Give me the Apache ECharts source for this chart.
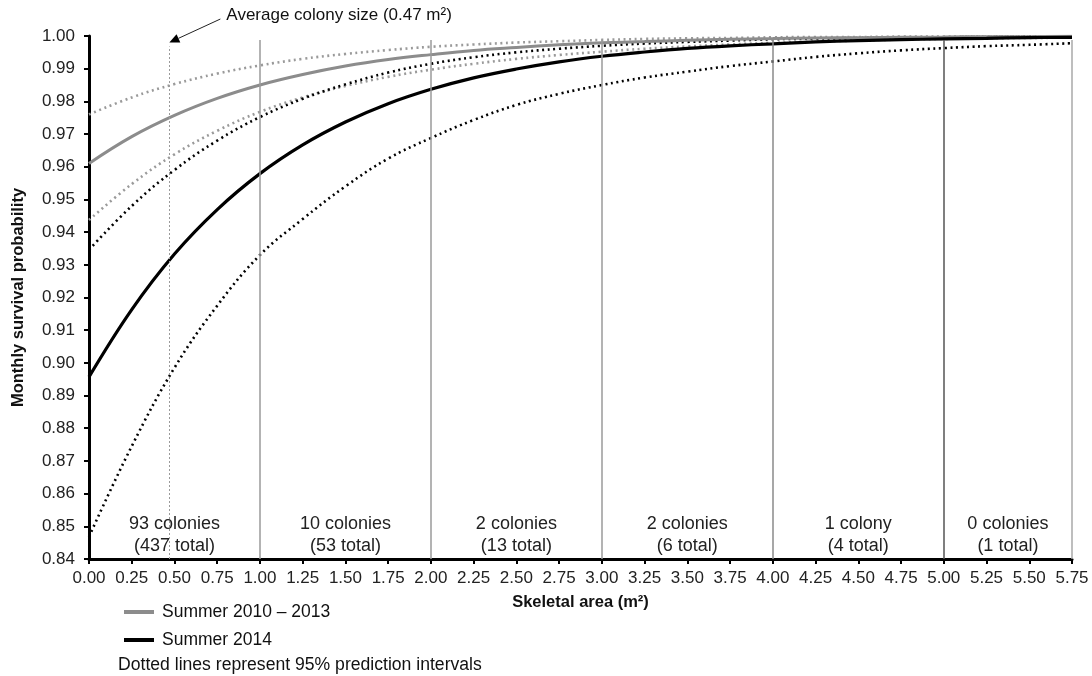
<!DOCTYPE html>
<html><head><meta charset="utf-8">
<script src="https://cdn.jsdelivr.net/npm/echarts@6/dist/echarts.min.js"></script>
<style>html,body{margin:0;padding:0;background:#fff}#c{width:1092px;height:676px}</style>
</head><body><div id="c"></div>
<script>
// ---- data ----
const skeletalArea = [0,0.25,0.5,0.75,1,1.25,1.5,1.75,2,2.25,2.5,2.75,3,3.25,3.5,3.75,4,4.25,4.5,4.75,5,5.25,5.5,5.75];
const summer2010_2013 = [0.9610,0.9692,0.9757,0.9809,0.9850,0.9882,0.9908,0.9928,0.9943,0.9956,0.9965,0.9973,0.9979,0.9983,0.9987,0.9990,0.9992,0.9994,0.9995,0.9996,0.9997,0.9998,0.9998,0.9999];
const summer2010_2013Upper = [0.9760,0.9812,0.9853,0.9885,0.9910,0.9930,0.9945,0.9957,0.9967,0.9974,0.9980,0.9984,0.9988,0.9991,0.9993,0.9994,0.9996,0.9997,0.9997,0.9998,0.9998,0.9999,0.9999,0.9999];
const summer2010_2013Lower = [0.9437,0.9547,0.9638,0.9710,0.9768,0.9812,0.9847,0.9875,0.9897,0.9915,0.9930,0.9942,0.9952,0.9961,0.9968,0.9974,0.9979,0.9983,0.9986,0.9989,0.9991,0.9993,0.9994,0.9995];
const summer2014 = [0.8957,0.9163,0.9333,0.9469,0.9579,0.9667,0.9737,0.9793,0.9837,0.9872,0.9899,0.9921,0.9938,0.9951,0.9962,0.9970,0.9976,0.9982,0.9986,0.9989,0.9991,0.9993,0.9995,0.9996];
const summer2014Upper = [0.9346,0.9480,0.9590,0.9680,0.9752,0.9808,0.9852,0.9888,0.9915,0.9935,0.9950,0.9961,0.9970,0.9977,0.9982,0.9986,0.9990,0.9992,0.9994,0.9995,0.9996,0.9997,0.9998,0.9998];
const summer2014Lower = [0.8468,0.8745,0.8985,0.9175,0.9330,0.9440,0.9540,0.9625,0.9688,0.9743,0.9789,0.9823,0.9850,0.9873,0.9891,0.9908,0.9922,0.9936,0.9947,0.9956,0.9963,0.9969,0.9973,0.9978];
const binEdges = [0,1,2,3,4,5,5.75];
const binColonies = ['93 colonies','10 colonies','2 colonies','2 colonies','1 colony','0 colonies'];
const binTotals = ['(437 total)','(53 total)','(13 total)','(6 total)','(4 total)','(1 total)'];
const averageColonySize = 0.47;
const seriesNames = ['Summer 2010 \u2013 2013','Summer 2014'];
const yMin = 0.84, yMax = 1.00, yStep = 0.01;
const xMin = 0, xMax = 5.75, xStep = 0.25;

// ---- chart ----
const FONT = '"Liberation Sans", Arial, sans-serif';
const GRAY = '#8c8c8c';
const pts = arr => skeletalArea.map((x,i)=>[x, arr[i]]);
const sepColors = ['#9a9a9a','#9a9a9a','#9a9a9a','#8a8a8a','#555555','#a8a8a8'];
const chart = echarts.init(document.getElementById('c'), null, {renderer:'canvas'});

const dotted = (name, arr, color) => ({
  name, type:'line', data: pts(arr), smooth:0.4, showSymbol:false, silent:true,
  lineStyle:{color, width:2.6, type:[2,3.6], cap:'butt'}, itemStyle:{color}, z:3
});

const option = {
  backgroundColor:'#fff',
  animation:false,
  textStyle:{fontFamily:FONT},
  grid:{left:89, right:20, top:36, bottom:117, containLabel:false, outerBoundsMode:'none'},
  xAxis:{
    type:'value', min:xMin, max:xMax, interval:xStep,
    name:'Skeletal area (m\u00b2)', nameLocation:'middle', nameGap:35,
    nameTextStyle:{fontFamily:FONT, fontWeight:'bold', fontSize:16.5, color:'#111'},
    axisLine:{show:true, onZero:false, lineStyle:{color:'#000', width:3}},
    axisTick:{show:true, length:5, lineStyle:{color:'#000', width:2}},
    axisLabel:{formatter:v=>v.toFixed(2), fontFamily:FONT, fontSize:17, color:'#222', margin:11},
    splitLine:{show:false}
  },
  yAxis:{
    type:'value', min:yMin, max:yMax, interval:yStep,
    name:'Monthly survival probability', nameLocation:'middle', nameGap:62, nameRotate:90,
    nameTextStyle:{fontFamily:FONT, fontWeight:'bold', fontSize:16.5, color:'#111'},
    axisLine:{show:true, onZero:false, lineStyle:{color:'#000', width:3}},
    axisTick:{show:true, length:5, lineStyle:{color:'#000', width:2}},
    axisLabel:{formatter:v=>v.toFixed(2), fontFamily:FONT, fontSize:17, color:'#222', margin:14},
    splitLine:{show:false}
  },
  legend:{
    data:seriesNames, orient:'vertical', left:119, top:598, itemWidth:30, itemHeight:4,
    itemGap:10, icon:'rect', selectedMode:false,
    textStyle:{fontFamily:FONT, fontSize:17.5, color:'#111', padding:[0,0,0,3]}
  },
  series:[
    {
      name:'bins', type:'line', data:[], silent:true,
      markLine:{
        silent:true, symbol:'none', label:{show:false}, animation:false,
        data: binEdges.slice(1).map((x,i)=>[
          {coord:[x,yMin], lineStyle:{color:sepColors[i], width:1.5, type:'solid'}},
          {coord:[x,0.9988]}
        ]).concat([[
          {coord:[averageColonySize,yMin], lineStyle:{color:'#9a9a9a', width:1, type:[2,2]}},
          {coord:[averageColonySize,0.9968]}
        ]])
      },
      markArea:{
        silent:true, itemStyle:{color:'rgba(0,0,0,0)'},
        label:{show:true, position:'insideBottom', distance:2, fontFamily:FONT, fontSize:18, lineHeight:22, color:'#222', align:'center'},
        data: binColonies.map((c,i)=>[
          {name:c+'\n'+binTotals[i], xAxis:binEdges[i], yAxis:yMin},
          {xAxis:binEdges[i+1], yAxis:yMax}
        ])
      }
    },
    dotted('2010-2013 upper', summer2010_2013Upper, '#9a9a9a'),
    dotted('2010-2013 lower', summer2010_2013Lower, '#9a9a9a'),
    dotted('2014 upper', summer2014Upper, '#000'),
    dotted('2014 lower', summer2014Lower, '#000'),
    {name:seriesNames[0], type:'line', data:pts(summer2010_2013), smooth:0.4, showSymbol:false, silent:true,
      lineStyle:{color:GRAY, width:3}, itemStyle:{color:GRAY}, color:GRAY, z:4},
    {name:seriesNames[1], type:'line', data:pts(summer2014), smooth:0.4, showSymbol:false, silent:true,
      lineStyle:{color:'#000', width:3.2}, itemStyle:{color:'#000'}, color:'#000', z:4}
  ]
};
chart.setOption(option);

// annotation arrow + note, positioned from the axis scale
const tip = chart.convertToPixel({xAxisIndex:0, yAxisIndex:0}, [averageColonySize, 0.998]);
const start = [tip[0]+51, tip[1]-23.5];
const dx = tip[0]-start[0], dy = tip[1]-start[1], len = Math.hypot(dx,dy);
const ux = dx/len, uy = dy/len, hl = 10, hw = 4.5;
const base = [tip[0]-ux*hl, tip[1]-uy*hl];
chart.setOption({graphic:[
  {type:'line', shape:{x1:start[0], y1:start[1], x2:base[0], y2:base[1]}, style:{stroke:'#222', lineWidth:1}, silent:true},
  {type:'polygon', shape:{points:[tip, [base[0]-uy*hw, base[1]+ux*hw], [base[0]+uy*hw, base[1]-ux*hw]]}, style:{fill:'#000'}, silent:true},
  {type:'text', left:tip[0]+57, top:tip[1]-36, style:{text:'Average colony size (0.47 m\u00b2)', font:'17px '+FONT, fill:'#111'}, silent:true},
  {type:'text', left:118, top:656, style:{text:'Dotted lines represent 95% prediction intervals', font:'17.6px '+FONT, fill:'#111'}, silent:true}
]});
</script>
</body></html>
